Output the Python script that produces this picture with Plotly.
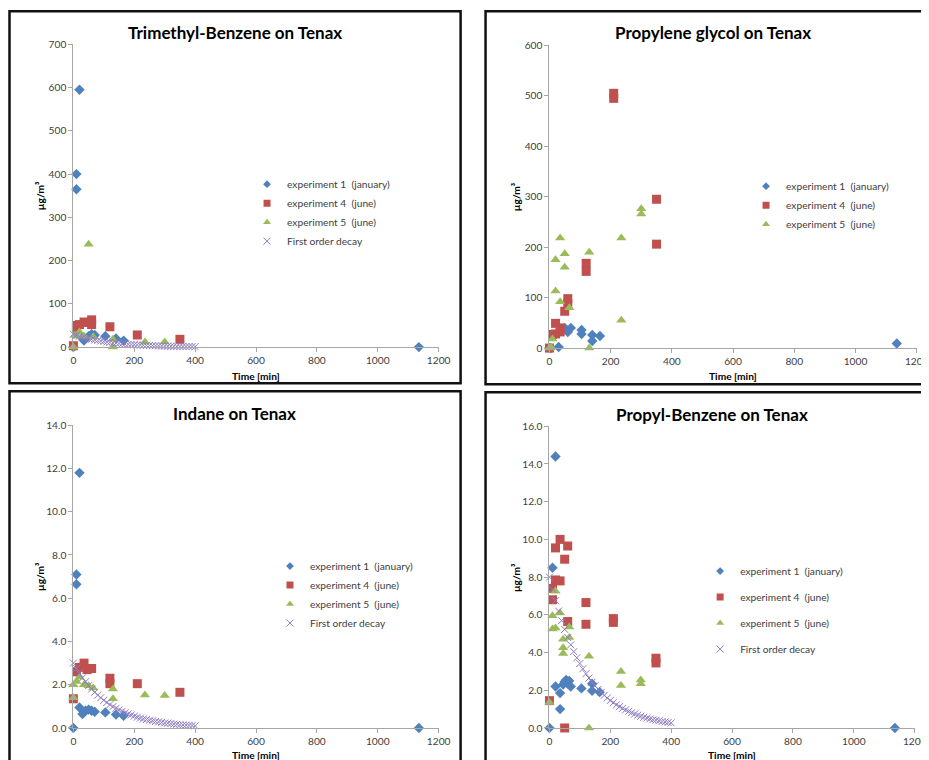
import plotly.graph_objects as go

# ---------------- DATA ----------------
# Trimethyl-Benzene on Tenax
tmb_e1_t = [0, 10, 10, 20, 30, 35, 50, 60, 70, 105, 140, 165, 1135]
tmb_e1_v = [0, 400, 365, 595, 20, 15, 25, 30, 28, 25, 20, 15, 0]
tmb_e4_t = [0, 10, 10, 20, 35, 50, 60, 60, 120, 210, 350]
tmb_e4_v = [3, 45, 50, 52, 58, 57, 63, 52, 47, 28, 18]
tmb_e5_t = [0, 5, 10, 20, 35, 50, 65, 130, 130, 235, 300]
tmb_e5_v = [0, 28, 25, 35, 25, 238, 24, 0, 18, 12, 12]
tmb_decay_v = [30.0, 27.6, 25.3, 23.2, 21.4, 19.6, 18.0, 16.5, 15.2, 14.0, 12.8,
               11.8, 10.8, 9.9, 9.1, 8.4, 7.7, 7.1, 6.5, 6.0, 5.5, 5.0, 4.6, 4.2,
               3.9, 3.6, 3.3, 3.0, 2.8, 2.6, 2.3, 2.2, 2.0, 1.8, 1.7, 1.5, 1.4,
               1.3, 1.2, 1.1, 1.0]

# Propylene glycol on Tenax
pg_e1_t = [0, 5, 30, 50, 60, 60, 70, 105, 105, 140, 140, 165, 1135]
pg_e1_v = [0, 0, 2, 40, 35, 32, 40, 36, 28, 26, 14, 24, 9]
pg_e4_t = [0, 10, 20, 20, 35, 35, 50, 60, 60, 120, 120, 210, 210, 350, 350]
pg_e4_v = [0, 27, 49, 28, 40, 32, 73, 98, 88, 168, 152, 505, 495, 295, 206]
pg_e5_t = [0, 5, 10, 20, 20, 35, 35, 50, 50, 65, 130, 130, 235, 235, 300, 300]
pg_e5_v = [0, 2, 18, 175, 113, 218, 92, 187, 160, 80, 190, 0, 218, 55, 276, 266]

# Indane on Tenax
ind_e1_t = [0, 10, 10, 20, 20, 30, 40, 50, 60, 70, 105, 140, 165, 1135]
ind_e1_v = [0, 7.1, 6.65, 11.8, 0.95, 0.65, 0.8, 0.85, 0.8, 0.75, 0.72, 0.62, 0.56, 0]
ind_e4_t = [0, 10, 20, 35, 45, 60, 120, 120, 210, 350]
ind_e4_v = [1.35, 2.6, 2.8, 3.0, 2.7, 2.75, 2.3, 2.05, 2.05, 1.65]
ind_e5_t = [0, 0, 10, 20, 35, 50, 65, 130, 130, 235, 300]
ind_e5_v = [1.4, 2.0, 2.15, 2.35, 2.0, 1.95, 1.85, 1.8, 1.35, 1.52, 1.5]
ind_decay_v = [3.00, 2.76, 2.53, 2.32, 2.14, 1.96, 1.80, 1.65, 1.52, 1.40, 1.28,
               1.18, 1.08, 0.99, 0.91, 0.84, 0.77, 0.71, 0.65, 0.60, 0.55, 0.50,
               0.46, 0.42, 0.39, 0.36, 0.33, 0.30, 0.28, 0.26, 0.23, 0.22, 0.20,
               0.18, 0.17, 0.15, 0.14, 0.13, 0.12, 0.11, 0.10]

# Propyl-Benzene on Tenax
pb_e1_t = [0, 10, 20, 20, 35, 35, 45, 50, 55, 60, 65, 70, 105, 140, 140, 165, 1135]
pb_e1_v = [0, 8.5, 14.4, 2.2, 1.85, 1.0, 2.3, 2.45, 2.55, 2.35, 2.5, 2.2, 2.1, 2.35, 1.97, 1.9, 0]
pb_e4_t = [0, 10, 10, 20, 20, 35, 35, 50, 50, 60, 60, 120, 120, 210, 210, 350, 350]
pb_e4_v = [1.45, 7.4, 6.8, 9.55, 7.85, 10.0, 7.8, 8.95, 0, 9.65, 5.65, 6.65, 5.5, 5.8, 5.6, 3.7, 3.45]
pb_e5_t = [0, 10, 10, 20, 20, 35, 45, 45, 45, 65, 65, 130, 130, 235, 235, 300, 300]
pb_e5_v = [1.35, 5.95, 5.25, 7.25, 5.3, 6.1, 4.7, 4.25, 3.95, 5.35, 4.8, 3.8, 0, 3.0, 2.25, 2.55, 2.35]
pb_decay_v = [8.00, 7.35, 6.75, 6.20, 5.69, 5.23, 4.80, 4.41, 4.05, 3.72, 3.42,
              3.14, 2.88, 2.65, 2.43, 2.24, 2.05, 1.89, 1.73, 1.59, 1.46, 1.34,
              1.23, 1.13, 1.04, 0.96, 0.88, 0.81, 0.74, 0.68, 0.62, 0.57, 0.53,
              0.48, 0.44, 0.41, 0.38, 0.34, 0.32, 0.29, 0.27]

decay_t = [0, 10, 20, 30, 40, 50, 60, 70, 80, 90, 100, 110, 120, 130, 140, 150,
           160, 170, 180, 190, 200, 210, 220, 230, 240, 250, 260, 270, 280, 290,
           300, 310, 320, 330, 340, 350, 360, 370, 380, 390, 400]

titles = ["Trimethyl-Benzene on Tenax", "Propylene glycol on Tenax",
          "Indane on Tenax", "Propyl-Benzene on Tenax"]
series_names = ["experiment 1  (january)", "experiment 4  (june)",
                "experiment 5  (june)", "First order decay"]
x_ticks = [0, 200, 400, 600, 800, 1000, 1200]

# ---------------- STYLE ----------------
W, H = 940, 765
S_X, O_X = 0.986, 10.5
S_Y, O_Y = 0.982, 14.7
FONT = "Lato, 'Open Sans', sans-serif"
BLUE, RED, GREEN, PURPLE = "#4F81BD", "#C0504D", "#9BBB59", "#8E7CC3"
FS = 10.2


def px(x):
    return ((x - O_X) / S_X) / W


def py(y):
    return 1 - ((y - O_Y) / S_Y) / H


panels = [
    dict(dom=(73, 439, 45, 347), yr=700, dt=100, fmt="d", tpos=(235, 33),
         xt=(256, 376), yt=(39, 196), leg=(247, 170), gap=0),
    dict(dom=(550, 918, 46, 348), yr=600, dt=100, fmt="d", tpos=(714, 33),
         xt=(734, 376), yt=(516, 197), leg=(747, 172), gap=0),
    dict(dom=(73, 439, 425, 727), yr=14, dt=2, fmt=".1f", tpos=(234, 413),
         xt=(256, 754), yt=(39, 576), leg=(270, 551), gap=0),
    dict(dom=(550, 916, 426, 727), yr=16, dt=2, fmt=".1f", tpos=(713, 414),
         xt=(733, 754), yt=(516, 577), leg=(701, 556), gap=7),
]

data = [
    (tmb_e1_t, tmb_e1_v, tmb_e4_t, tmb_e4_v, tmb_e5_t, tmb_e5_v, tmb_decay_v),
    (pg_e1_t, pg_e1_v, pg_e4_t, pg_e4_v, pg_e5_t, pg_e5_v, None),
    (ind_e1_t, ind_e1_v, ind_e4_t, ind_e4_v, ind_e5_t, ind_e5_v, ind_decay_v),
    (pb_e1_t, pb_e1_v, pb_e4_t, pb_e4_v, pb_e5_t, pb_e5_v, pb_decay_v),
]

fig = go.Figure()
layout = dict(width=W, height=H, margin=dict(l=0, r=0, t=0, b=0),
              paper_bgcolor="white", plot_bgcolor="white", showlegend=True,
              font=dict(family=FONT, size=FS, color="#404040"))
annotations = []
shapes = []

for i, (p, d) in enumerate(zip(panels, data)):
    k = "" if i == 0 else str(i + 1)
    xa, ya = "x" + k, "y" + k
    leg = "legend" + k
    e1t, e1v, e4t, e4v, e5t, e5v, dec = d
    tr = [
        (e1t, e1v, series_names[0], dict(symbol="diamond", size=8, color=BLUE), 6),
        (e4t, e4v, series_names[1], dict(symbol="square", size=9, color=RED), 7),
        (e5t, e5v, series_names[2], dict(symbol="triangle-up", size=9, color=GREEN), 7),
    ]
    if dec is not None:
        tr.append((decay_t, dec, series_names[3],
                   dict(symbol="x-thin", size=7, color=PURPLE,
                        line=dict(width=1, color=PURPLE)), 7))
    for j, (tx, vy, nm, mk, lsize) in enumerate(tr):
        fig.add_trace(go.Scatter(x=tx, y=vy, mode="markers", name=nm, marker=mk,
                                 xaxis=xa, yaxis=ya, showlegend=False,
                                 cliponaxis=False, legendgroup=f"g{i}_{j}"))
        lmk = dict(mk)
        lmk["size"] = lsize
        fig.add_trace(go.Scatter(x=[None], y=[None], mode="markers", name=nm,
                                 marker=lmk, xaxis=xa, yaxis=ya, legend=leg,
                                 showlegend=True, legendgroup=f"g{i}_{j}"))
    x0, x1, yt_, yb_ = p["dom"]
    axis_common = dict(showline=True, linecolor="#A6A6A6", linewidth=1,
                       ticks="outside", tickcolor="#A6A6A6", ticklen=4,
                       showgrid=False, zeroline=False,
                       tickfont=dict(family=FONT, size=FS, color="#404040"))
    layout["xaxis" + k] = dict(domain=[px(x0), px(x1)], range=[0, 1200],
                               tickvals=x_ticks, anchor=ya, **axis_common)
    layout["yaxis" + k] = dict(domain=[py(yb_), py(yt_)], range=[0, p["yr"]],
                               dtick=p["dt"], tickformat=p["fmt"], anchor=xa,
                               **axis_common)
    lx, ly = p["leg"]
    layout[leg] = dict(x=px(lx), y=py(ly), xanchor="left", yanchor="top",
                       bgcolor="rgba(0,0,0,0)", tracegroupgap=p["gap"],
                       itemsizing="trace", itemwidth=30,
                       font=dict(family=FONT, size=FS, color="#404040"))
    tx_, ty_ = p["tpos"]
    annotations.append(dict(text="<b>" + titles[i] + "</b>", x=px(tx_), y=py(ty_),
                            xref="paper", yref="paper", showarrow=False,
                            xanchor="center", yanchor="middle",
                            font=dict(family=FONT, size=17, color="#000000")))
    ax_, ay_ = p["xt"]
    annotations.append(dict(text="<b>Time [min]</b>", x=px(ax_), y=py(ay_),
                            xref="paper", yref="paper", showarrow=False,
                            xanchor="center", yanchor="middle",
                            font=dict(family=FONT, size=FS, color="#000000")))
    bx_, by_ = p["yt"]
    annotations.append(dict(text="<b>µg/m³</b>", x=px(bx_), y=py(by_),
                            xref="paper", yref="paper", showarrow=False,
                            textangle=-90, xanchor="center", yanchor="middle",
                            font=dict(family=FONT, size=FS, color="#000000")))

# panel frames
frames = [(9, 12, 461, 383), (486, 12, 960, 384), (9, 391, 461, 790), (486, 392, 960, 790)]
for (a, b, c, e) in frames:
    shapes.append(dict(type="rect", xref="paper", yref="paper",
                       x0=px(a), x1=px(c), y0=py(e), y1=py(b),
                       line=dict(color="#111111", width=2.5)))

layout["annotations"] = annotations
layout["shapes"] = shapes
fig.update_layout(**layout)
fig.write_html("out.html")
